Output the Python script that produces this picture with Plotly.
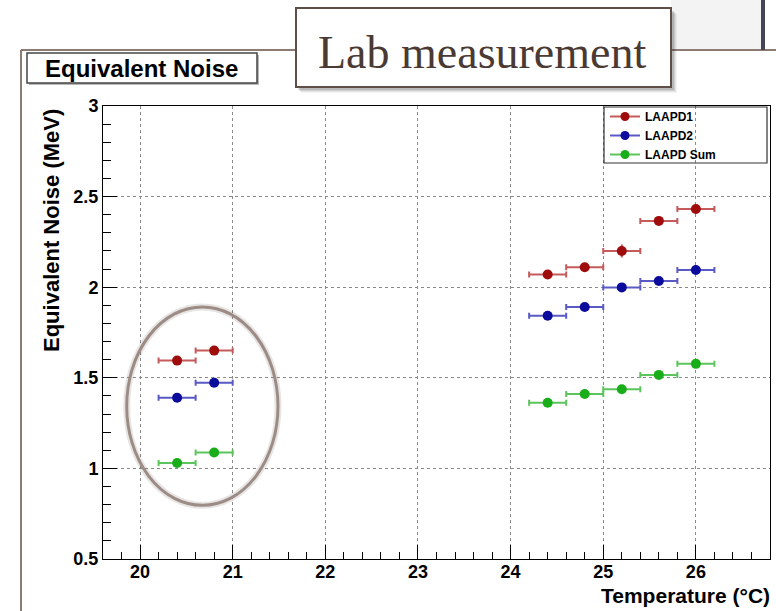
import plotly.graph_objects as go

# ---- data -------------------------------------------------------------
temps = [20.4, 20.8, 24.4, 24.8, 25.2, 25.6, 26.0]
temp_err = [0.2, 0.2, 0.2, 0.2, 0.2, 0.2, 0.2]

laapd1 = [1.595, 1.650, 2.070, 2.110, 2.200, 2.366, 2.432]
laapd1_err = [0.012, 0.012, 0.012, 0.012, 0.036, 0.012, 0.026]

laapd2 = [1.390, 1.473, 1.842, 1.891, 1.999, 2.034, 2.095]
laapd2_err = [0.010, 0.010, 0.010, 0.010, 0.018, 0.010, 0.012]

laapd_sum = [1.030, 1.088, 1.362, 1.411, 1.437, 1.516, 1.577]
laapd_sum_err = [0.010, 0.010, 0.010, 0.010, 0.010, 0.010, 0.012]

series_names = ["LAAPD1", "LAAPD2", "LAAPD Sum"]
x_range = [19.6, 26.8]
y_range = [0.5, 3.0]

# ---- page geometry (pixels) -------------------------------------------
W, H = 776, 611
L, R, T, B = 103, 770, 106, 559
PW, PH = R - L, B - T


def px(xp):
    return (xp - L) / PW


def py(yp):
    return (B - yp) / PH


FONT = "Liberation Sans"
colors = ["#9e0c0c", "#0b0b9c", "#1aad1a"]
bar_colors = ["#c45a5a", "#5a5ac4", "#5cc45c"]

fig = go.Figure()

series = [(laapd1, laapd1_err), (laapd2, laapd2_err), (laapd_sum, laapd_sum_err)]
for (vals, errs), name, c, bc in zip(series, series_names, colors, bar_colors):
    fig.add_trace(go.Scatter(
        x=temps, y=vals, mode="markers", name=name, showlegend=False,
        marker=dict(color=c, size=10, line=dict(width=0)),
        error_x=dict(type="data", array=temp_err, color=bc, thickness=2, width=3),
        error_y=dict(type="data", array=errs, color=bc, thickness=2, width=0),
    ))

# legend entries (line + marker, as in the ROOT legend)
for name, c, bc in zip(series_names, colors, bar_colors):
    fig.add_trace(go.Scatter(
        x=[None], y=[None], mode="lines+markers", name=name,
        line=dict(color=bc, width=2),
        marker=dict(color=c, size=9),
    ))

shapes = []

# slide frame lines
shapes.append(dict(type="rect", xref="paper", yref="paper",
                   x0=px(671), x1=px(761), y0=py(49), y1=py(0),
                   fillcolor="#f3f3f3", line=dict(width=0), layer="below"))
shapes.append(dict(type="line", xref="paper", yref="paper",
                   x0=px(21), x1=px(776), y0=py(50), y1=py(50),
                   line=dict(color="#8b7b73", width=2)))
shapes.append(dict(type="line", xref="paper", yref="paper",
                   x0=px(21), x1=px(21), y0=py(50), y1=py(611),
                   line=dict(color="#8b7b73", width=2)))
shapes.append(dict(type="rect", xref="paper", yref="paper",
                   x0=px(761), x1=px(765), y0=py(50), y1=py(0),
                   fillcolor="#45455a", line=dict(width=0)))

# title box "Equivalent Noise"
shapes.append(dict(type="rect", xref="paper", yref="paper",
                   x0=px(29), x1=px(259), y0=py(85), y1=py(55),
                   fillcolor="#b8b8b8", line=dict(width=0)))
shapes.append(dict(type="rect", xref="paper", yref="paper",
                   x0=px(27), x1=px(257), y0=py(83), y1=py(53),
                   fillcolor="white", line=dict(color="#444444", width=1.5)))

# "Lab measurement" box with a soft drop shadow
for off, op in [(6, 0.06), (5, 0.08), (4, 0.12), (3, 0.16)]:
    shapes.append(dict(type="rect", xref="paper", yref="paper",
                       x0=px(296 + off - 1), x1=px(671 + off), y0=py(87 + off), y1=py(8 + off),
                       fillcolor=f"rgba(60,60,60,{op})", line=dict(width=0)))
shapes.append(dict(type="rect", xref="paper", yref="paper",
                   x0=px(296), x1=px(671), y0=py(87), y1=py(8),
                   fillcolor="white", line=dict(color="#5e4e46", width=2)))

# legend frame
shapes.append(dict(type="rect", xref="paper", yref="paper",
                   x0=px(604), x1=px(767), y0=py(163), y1=py(107),
                   fillcolor="rgba(0,0,0,0)", line=dict(color="#333333", width=1.2)))

# highlight ellipse around the low-temperature points
shapes.append(dict(type="circle", xref="x", yref="y",
                   x0=19.856, x1=21.489, y0=0.796, y1=1.891,
                   line=dict(color="rgba(90,80,75,0.15)", width=7)))
shapes.append(dict(type="circle", xref="x", yref="y",
                   x0=19.856, x1=21.489, y0=0.796, y1=1.891,
                   line=dict(color="#9d8c85", width=3)))

annotations = [
    dict(text="Equivalent Noise", xref="paper", yref="paper",
         x=px(141), y=py(68), xanchor="center", yanchor="middle", showarrow=False,
         font=dict(family=FONT, size=24, color="black", weight="bold")),
    dict(text="Lab measurement", xref="paper", yref="paper",
         x=px(482), y=py(52), xanchor="center", yanchor="middle", showarrow=False,
         font=dict(family="Liberation Serif", size=46, color="#4a3a33")),
    dict(text="Equivalent Noise (MeV)", xref="paper", yref="paper", textangle=-90,
         x=px(51), y=py(231), xanchor="center", yanchor="middle", showarrow=False,
         font=dict(family=FONT, size=22, color="black", weight="bold")),
    dict(text="Temperature (°C)", xref="paper", yref="paper",
         x=px(772), y=py(595), xanchor="right", yanchor="middle", showarrow=False,
         font=dict(family=FONT, size=21, color="black", weight="bold")),
]

axis_common = dict(
    showline=True, linecolor="black", linewidth=1, mirror=True,
    ticks="inside", tickcolor="black", ticklen=14, tickwidth=1,
    showgrid=True, gridcolor="#8a8a8a", griddash="dot", gridwidth=1,
    zeroline=False,
    tickfont=dict(family=FONT, size=18, color="black", weight="bold"),
)

fig.update_xaxes(range=x_range, tick0=20, dtick=1, ticklabelstandoff=-4,
                 minor=dict(dtick=0.2, ticks="inside", ticklen=7, tickcolor="black", showgrid=False),
                 **axis_common)
fig.update_yaxes(range=y_range, tick0=0.5, dtick=0.5,
                 minor=dict(dtick=0.1, ticks="inside", ticklen=8, tickcolor="black", showgrid=False),
                 **axis_common)

fig.update_layout(
    width=W, height=H,
    margin=dict(l=L, r=W - R, t=T, b=H - B, pad=0),
    paper_bgcolor="white", plot_bgcolor="white",
    shapes=shapes, annotations=annotations,
    showlegend=True,
    legend=dict(x=px(605), y=py(102), xanchor="left", yanchor="top",
                bgcolor="rgba(0,0,0,0)", borderwidth=0, tracegroupgap=0,
                font=dict(family=FONT, size=12, color="black", weight="bold")),
)

fig.write_html("out.html")
